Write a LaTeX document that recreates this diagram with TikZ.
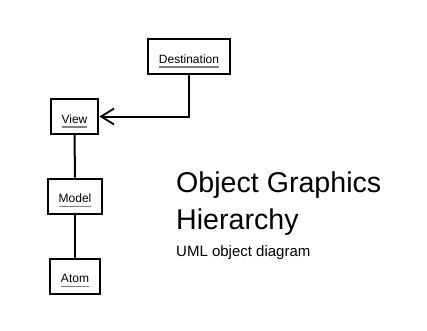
\documentclass[tikz,border=0pt]{standalone}
\usepackage{fontspec}
\setmainfont{Liberation Sans}
\usepackage{tikz}
\usetikzlibrary{arrows.meta}

% object name with a grey bar under it
\newcommand{\objname}[1]{\setbox0\hbox{#1}\rlap{\color{gray}\rule[-4.8pt]{\wd0}{1.8pt}}\box0}

\begin{document}
\begin{tikzpicture}[x=1pt,y=-1pt,>={Straight Barb[length=13pt,width=16pt,line width=1.8pt]},
		obj/.style={draw,line width=2pt,inner xsep=11pt,minimum height=35pt,
			text height=13pt,text depth=0pt,font=\fontsize{12}{14}\selectfont}]
	\useasboundingbox[fill=white] (0,0) rectangle (427,330);
	\node[obj] (dest) at (189, 56.5) {\objname{Destination}};
	\node[obj] (view) at (74.5, 116.5) {\objname{View}};
	\node[obj] (model) at (75, 196) {\objname{Model}};
	\node[obj] (atom) at (75, 276) {\objname{Atom}};
	\draw[->,line width=2pt] (dest.south) |- (view.east);
	\draw[line width=2pt] (view) -- (model);
	\draw[line width=2pt] (model) -- (atom);
	\node[anchor=base west,inner sep=0pt,align=left,font=\fontsize{28.6}{37}\selectfont]
		(title) at (176, 229) {Object Graphics\\Hierarchy};
	\node[anchor=base west,inner sep=0pt,font=\fontsize{15}{18}\selectfont]
		(sub) at (176, 256) {UML object diagram};
\end{tikzpicture}
\end{document}
